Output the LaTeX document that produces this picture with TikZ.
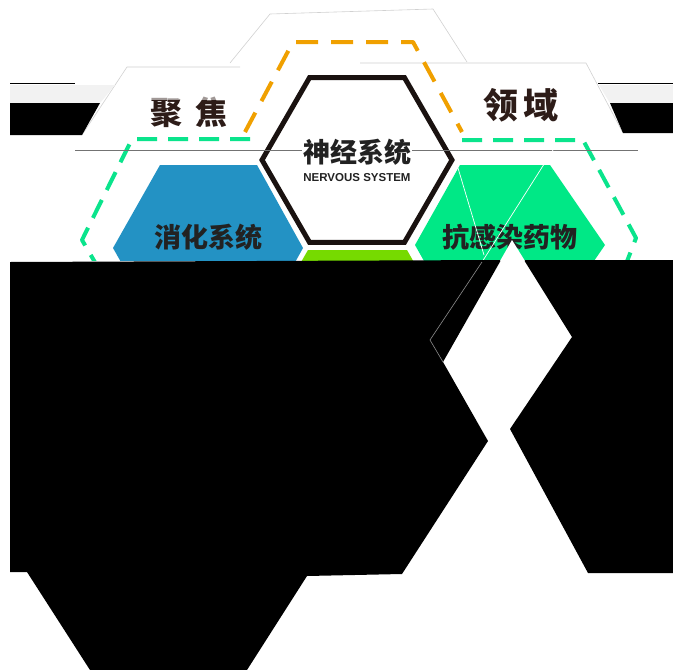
\documentclass[tikz,border=0pt]{standalone}
\usepackage{fontspec}
\setmainfont{Liberation Sans}
\newfontfamily\cjk{Noto Sans CJK SC}
\definecolor{hexblue}{RGB}{35,146,196}
\definecolor{hexgreen}{RGB}{0,232,134}
\definecolor{hexlime}{RGB}{118,218,0}
\definecolor{dashgreen}{RGB}{10,228,140}
\definecolor{dashorange}{RGB}{240,160,0}
\definecolor{hexink}{RGB}{26,18,16}
\definecolor{txtdark}{RGB}{34,34,34}
\definecolor{brownink}{RGB}{45,28,24}
\definecolor{stripgray}{RGB}{242,242,242}
\tikzset{
  faint/.style={draw=black!18, line width=0.6pt},
  greendash/.style={draw=dashgreen, line width=4pt, dash pattern=on 20pt off 11pt, line join=round},
  orangedash/.style={draw=dashorange, line width=4pt, dash pattern=on 22pt off 13pt, line join=round},
  hexlabel/.style={font=\cjk\bfseries\fontsize{27}{27}\selectfont, text=txtdark, inner sep=0pt},
  biglabel/.style={font=\cjk\bfseries\fontsize{32}{32}\selectfont, text=brownink, inner sep=0pt},
}
\begin{document}
\begin{tikzpicture}[x=1pt,y=-1pt]
\useasboundingbox (0,0) rectangle (673,670);
\fill[white] (0,0) rectangle (673,670);

% faint outlines of the white hexagons
\draw[faint] (230,63) -- (270,14) -- (433,9) -- (467,62);
\draw[faint] (82,135) -- (127,67) -- (240,67);
\draw[faint] (360,63) -- (586,63) -- (623,133);

% left band
\draw[black, line width=1.5pt] (10,83.5) -- (75,83.5);
\fill[stripgray] (10,85) -- (115,85) -- (100,103) -- (10,103) -- cycle;
\fill[black] (10,103) -- (100,103) -- (82,135) -- (10,135) -- cycle;
% right band
\draw[black, line width=1.5pt] (598,83.5) -- (673,83.5);
\fill[stripgray] (599,85) -- (673,85) -- (673,103) -- (610,103) -- cycle;
\fill[black] (610,103) -- (673,103) -- (673,133) -- (623,133) -- cycle;

% labels on the white hexagons
\node[biglabel] (juj) at (189,112) {聚\hspace{13pt}焦};
\fill[white, opacity=0.55] (120,85) rectangle (240,100);
\node[biglabel, font=\cjk\bfseries\fontsize{35}{35}\selectfont] (lingyu) at (521,105) {领\hspace{6pt}域};

% dashed outlines
\draw[orangedash] (245,132) -- (293,42) -- (413,42) -- (462,132);
\draw[greendash] (250,139) -- (132,139) -- (82,240) -- (96,264);
\draw[greendash] (462,140) -- (583,140) -- (636,238) -- (626,264);

% thin gray line
\draw[black!55, line width=0.8pt] (75,150) -- (638,150);

% hexagons
\fill[hexlime] (308,250) -- (407,250) -- (452,330) -- (407,410) -- (308,410) -- (262,330) -- cycle;
\fill[hexblue] (113,248) -- (160,165) -- (257,165) -- (303,248) -- (257,331) -- (160,331) -- cycle;
\fill[hexgreen] (415,245) -- (460,165) -- (550,165) -- (605,245) -- (550,325) -- (460,325) -- cycle;
\draw[hexink, line width=5pt, line join=miter, fill=white] (452,160) -- (404.5,77.7) -- (309.5,77.7) -- (262,160) -- (309.5,242.3) -- (404.5,242.3) -- cycle;
\draw[black!55, line width=0.8pt] (264,150) -- (450,150);

\node[hexlabel, fill=white, inner sep=1pt] (nerv) at (357,152) {神经系统};
\node[font=\bfseries\fontsize{11.5}{11.5}\selectfont, text=txtdark, inner sep=0pt] (nervEn) at (357,178) {NERVOUS SYSTEM};
\node[hexlabel] (digest) at (208,237) {消化系统};
\node[hexlabel] (anti) at (510,237) {抗感染药物};

% white artefact lines across the green hexagon
\draw[white, line width=0.7pt] (553,150) -- (482,262);
\draw[white, line width=0.7pt] (458,168) -- (484,255);

% everything below the cut is white, then the large black areas
\fill[white] (0,261) rectangle (673,670);
\fill[black] (10,262) -- (501,260) -- (443,362) -- (488,441) -- (402,574) -- (307,576) -- (247,670) -- (90,670) -- (27,572) -- (10,572) -- cycle;
\fill[black] (524,260) -- (673,260) -- (673,573) -- (588,573) -- (510,429) -- (572,337) -- cycle;
\fill[white] (500,261) -- (512,240) -- (525,261) -- cycle;
\draw[black!45, line width=0.6pt] (482,262) -- (430,340) -- (443,362);
\end{tikzpicture}
\end{document}
